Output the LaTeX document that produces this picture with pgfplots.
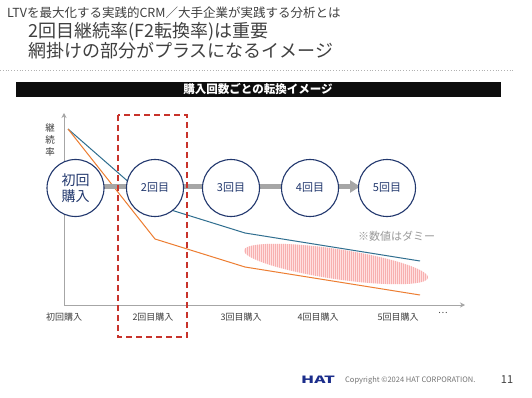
\documentclass[border=0pt]{standalone}
\usepackage{fontspec}
\setmainfont{Noto Sans CJK JP}
\usepackage{pgfplots}
\pgfplotsset{compat=1.18}
\usetikzlibrary{arrows.meta,patterns}
\pgfdeclarepatternformonly{finevert}{\pgfpointorigin}{\pgfpoint{1.7pt}{1pt}}{\pgfpoint{1.7pt}{1pt}}{\pgfpathrectangle{\pgfpointorigin}{\pgfpoint{0.7pt}{1pt}}\pgfusepath{fill}}
\definecolor{navy}{HTML}{22386E}
\definecolor{lblue}{HTML}{2F6E8F}
\definecolor{lorange}{HTML}{ED7D31}
\definecolor{agray}{HTML}{A6A6A6}
\definecolor{dred}{HTML}{C8332B}
\definecolor{txt}{HTML}{404040}
\definecolor{hatch}{HTML}{EE7070}
\begin{document}
\begin{tikzpicture}
\begin{scope}[x=1pt,y=-1pt]
\fill[white] (0,0) rectangle (532,398);
\useasboundingbox (0,0) rectangle (532,398);
\node[anchor=west, text=txt, font=\fontsize{12.5}{14}\selectfont, inner sep=0] at (7,13) {LTVを最大化する実践的CRM／大手企業が実践する分析とは};
\node[anchor=west, text=txt, font=\fontsize{18}{20}\selectfont, inner sep=0] at (28,32) {2回目継続率(F2転換率)は重要};
\node[anchor=west, text=txt, font=\fontsize{18}{20}\selectfont, inner sep=0] at (28,51) {網掛けの部分がプラスになるイメージ};
\draw[black!30, dotted, line width=0.8pt] (0,70) -- (515,70);
\fill[black!95] (16,82) rectangle (501,97);
\node[text=white, font=\bfseries\fontsize{11.5}{13}\selectfont, inner sep=0] at (258,89.5) {購入回数ごとの転換イメージ};
\node[text=txt, font=\fontsize{9.5}{12}\selectfont, align=center, inner sep=0] at (50,140) {継\\続\\率};
\end{scope}

\begin{axis}[at={(64pt,-305pt)}, anchor=south west, scale only axis,
  width=401pt, height=192pt, xmin=64, xmax=465, ymin=0, ymax=192,
  axis lines=left,
  axis line style={agray, line width=1pt, -{Stealth[length=5pt,width=5pt]}},
  ytick=\empty,
  xtick={64,153,241,318,398,443},
  xticklabels={初回購入,2回目購入,3回目購入,4回目購入,5回目購入,…},
  major tick length=0pt,
  xticklabel style={text=txt, font=\fontsize{9}{10}\selectfont, yshift=-4pt},
  clip=false]
\addplot[lblue, line width=1pt] coordinates {(68,176) (155,100) (245,72) (420,44)};
\addplot[lorange, line width=1pt] coordinates {(68,176) (155,66) (245,38) (420,10)};
\end{axis}

\begin{scope}[x=1pt,y=-1pt]
\draw[agray, line width=5pt, -{Triangle[length=10pt,width=12pt]}] (100,186.5) -- (360,186.5);
\foreach \cx/\lab in {155/2回目,231/3回目,310/4回目,387/5回目}{
  \draw[navy, line width=1.1pt, fill=white] (\cx,188) circle (28.5pt);
  \node[navy, font=\fontsize{11}{13}\selectfont] at (\cx,188) {\lab};
}
\draw[navy, line width=1.1pt, fill=white] (75.5,188) circle (28.5pt);
\node[navy, font=\fontsize{14}{16}\selectfont, align=center, inner sep=0] at (75.5,188) {初回\\購入};
\fill[red!12, rotate around={-8.5:(336,264)}] (336,264) ellipse [x radius=93pt, y radius=15pt];
\fill[pattern=finevert, pattern color=hatch, rotate around={-8.5:(336,264)}] (336,264) ellipse [x radius=93pt, y radius=15pt];
\node[text=black!40, font=\fontsize{11}{13}\selectfont, anchor=west, inner sep=0] at (358,236) {※数値はダミー};
\draw[dred, line width=1.8pt, dash pattern=on 6pt off 4pt] (118,115) rectangle (187,337);
\node[text=navy!80!blue, font=\bfseries\fontsize{10}{10}\selectfont, inner sep=0] at (318,380) {\scalebox{1.7}[1]{HAT}};
\node[text=black!55, font=\fontsize{7.5}{9}\selectfont, anchor=west, inner sep=0] at (345,380) {Copyright ©2024 HAT CORPORATION.};
\node[text=txt, font=\fontsize{11}{12}\selectfont, inner sep=0] at (507,380) {11};
\end{scope}
\end{tikzpicture}
\end{document}
